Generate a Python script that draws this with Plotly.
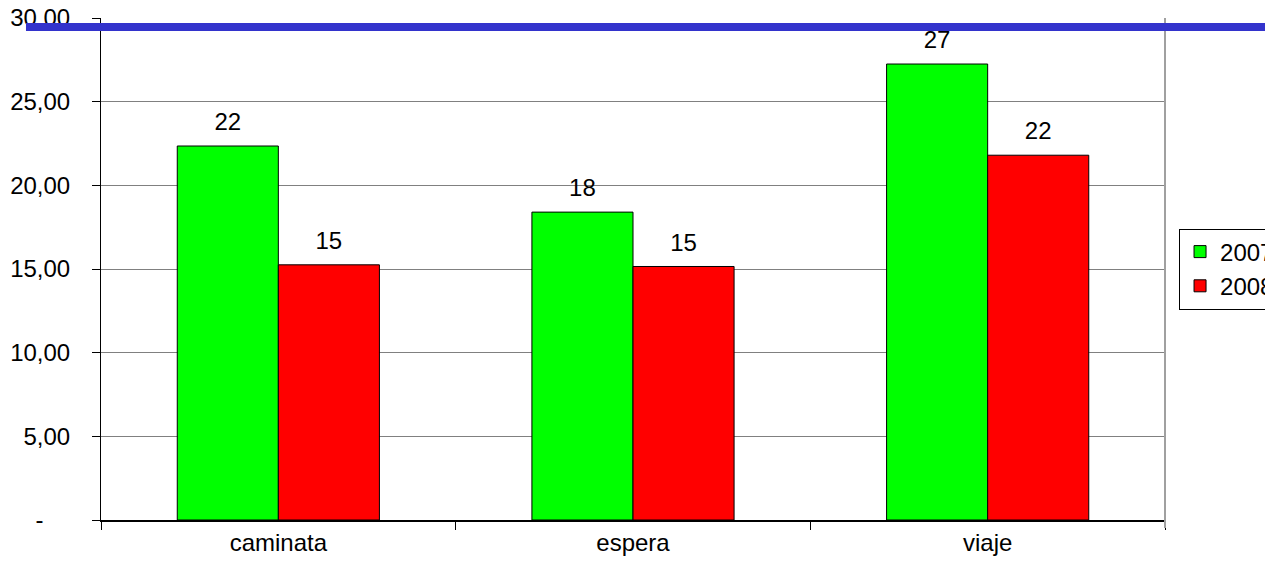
import plotly.graph_objects as go

categories = ["caminata", "espera", "viaje"]
series_names = ["2007", "2008"]
values_2007 = [22.35, 18.4, 27.25]
values_2008 = [15.25, 15.15, 21.8]
colors = ["#00FF00", "#FF0000"]
y_tickvals = [0, 5, 10, 15, 20, 25, 30]
y_ticktext = ["-" + "\u00a0" * 4, "5,00", "10,00", "15,00", "20,00", "25,00", "30,00"]

FONT = "Liberation Sans, Arial, sans-serif"

fig = go.Figure()
for name, vals, col in zip(series_names, [values_2007, values_2008], colors):
    fig.add_trace(go.Bar(
        x=categories, y=vals, name=name, offsetgroup=name,
        marker=dict(color=col, line=dict(color="black", width=1)),
        hoverinfo="skip",
    ))
for name, vals in zip(series_names, [values_2007, values_2008]):
    fig.add_trace(go.Scatter(
        x=categories, y=vals, offsetgroup=name, mode="markers+text",
        marker=dict(size=14, opacity=0), showlegend=False,
        texttemplate="%{y:.0f}", textposition="top center",
        textfont=dict(size=24, color="black", family=FONT),
        cliponaxis=False, hoverinfo="skip",
    ))

fig.update_layout(
    width=1265, height=571,
    margin=dict(l=101, r=100, t=18, b=51, autoexpand=False),
    paper_bgcolor="white", plot_bgcolor="white",
    barmode="group", bargap=0.43, bargroupgap=0,
    scattermode="group", scattergap=0.43,
    font=dict(family=FONT, size=24, color="black"),
    separators=",.",
    showlegend=True,
    legend=dict(x=1.0132, xanchor="left", y=0.50, yanchor="middle",
                bordercolor="black", borderwidth=1, bgcolor="white",
                font=dict(size=24, family=FONT), itemclick=False,
                tracegroupgap=0),
    xaxis=dict(showline=True, linecolor="black", linewidth=1.5,
               ticks="outside", ticklen=8, tickcolor="black", tickson="boundaries",
               showgrid=False, tickfont=dict(size=24)),
    yaxis=dict(range=[0, 30], tickvals=y_tickvals, ticktext=y_ticktext,
               showline=True, linecolor="black", linewidth=1,
               ticks="outside", ticklen=8, tickcolor="black",
               ticklabelstandoff=17,
               showgrid=True, gridcolor="#808080", gridwidth=1,
               zeroline=False, tickfont=dict(size=24)),
    shapes=[
        dict(type="line", xref="paper", yref="paper", x0=1, x1=1, y0=-0.016, y1=1,
             line=dict(color="#A0A0A0", width=2)),
        dict(type="line", xref="paper", yref="paper", x0=-0.0705, x1=1.094, y0=0.982, y1=0.982,
             line=dict(color="#3333CC", width=8), layer="above"),
    ],
)

fig.write_html("out.html", config={"displayModeBar": False},
               post_script="document.body.style.margin='0px';document.body.style.overflow='hidden';")
